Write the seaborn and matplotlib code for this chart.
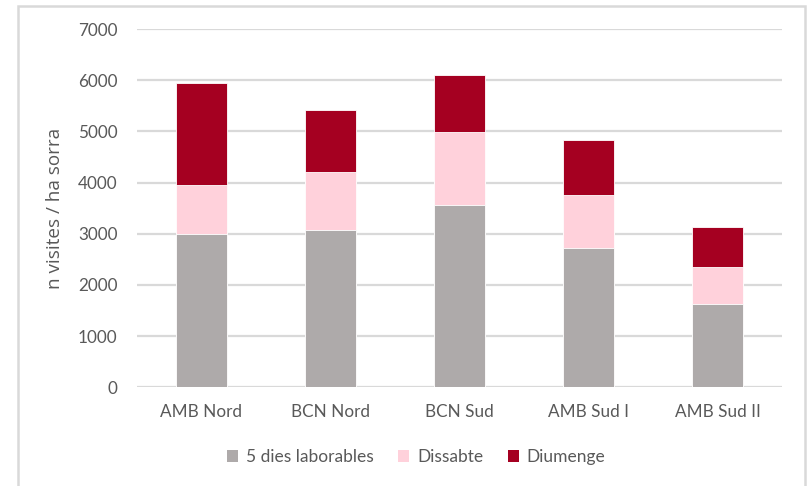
import matplotlib
matplotlib.use("Agg")
import matplotlib.pyplot as plt
from matplotlib.patches import Patch, Rectangle
import seaborn as sns
import pandas as pd
import numpy as np

# Visits per hectare of sand, by beach zone and type of day
zones = ["AMB Nord", "BCN Nord", "BCN Sud", "AMB Sud I", "AMB Sud II"]
laborables = [2995, 3070, 3560, 2727, 1633]
dissabte = [957, 1141, 1426, 1035, 711]
diumenge = [1998, 1205, 1114, 1068, 781]
y_ticks = [0, 1000, 2000, 3000, 4000, 5000, 6000, 7000]

series_names = ["5 dies laborables", "Dissabte", "Diumenge"]
colors = ["#AEAAAA", "#FFD1DB", "#A50021"]
text_color = "#595959"
grid_color = "#D9D9D9"

sns.set_theme(style="white")
plt.rcParams["font.family"] = ["Lato", "DejaVu Sans"]

df = pd.DataFrame({
    "zone": zones,
    "laborables": laborables,
    "dissabte": dissabte,
    "diumenge": diumenge,
})
df["c1"] = df["laborables"]
df["c2"] = df["c1"] + df["dissabte"]
df["c3"] = df["c2"] + df["diumenge"]

fig = plt.figure(figsize=(8.08, 4.86), dpi=100)
ax = fig.add_axes([137 / 808, 1 - 387.3 / 486, 645 / 808, 358.2 / 486])

# stacked bars: draw the running totals from the top layer down
for col, color in zip(["c3", "c2", "c1"], colors[::-1]):
    sns.barplot(data=df, x="zone", y=col, color=color, saturation=1,
                width=0.4, edgecolor="white", linewidth=0.6, ax=ax, zorder=3)

ax.set_ylim(0, 7000)
ax.set_xlim(-0.5, 4.5)
ax.set_yticks(y_ticks)
ax.set_yticklabels([str(v) for v in y_ticks])
ax.yaxis.grid(True, color=grid_color, linewidth=1.6, zorder=0)
ax.xaxis.grid(False)
ax.set_axisbelow(True)
for s in ax.spines.values():
    s.set_visible(False)

ax.tick_params(axis="both", length=0, labelsize=12.3, colors=text_color)
ax.tick_params(axis="y", pad=14)
ax.tick_params(axis="x", pad=12)
ax.set_xlabel("")
ax.set_ylabel("n visites / ha sorra", fontsize=13.6, color=text_color,
              family=["Open Sans", "DejaVu Sans"])
ax.yaxis.set_label_coords(-0.113, 0.5)

handles = [Patch(facecolor=c, edgecolor="none", label=n)
           for n, c in zip(series_names, colors)]
fig.legend(handles=handles, loc="center", bbox_to_anchor=(0.515, 1 - 457 / 486),
           ncol=3, frameon=False, fontsize=12.5, handlelength=0.65,
           handleheight=0.65, handletextpad=0.45, columnspacing=1.4,
           labelcolor=text_color)

# light frame around the chart
fig.patches.append(Rectangle((17.5 / 808, -0.05), (805 - 17.5) / 808, 1.05 - 6 / 486,
                             transform=fig.transFigure, fill=False,
                             edgecolor=grid_color, linewidth=1.8))

fig.savefig("out.png", dpi=100)
